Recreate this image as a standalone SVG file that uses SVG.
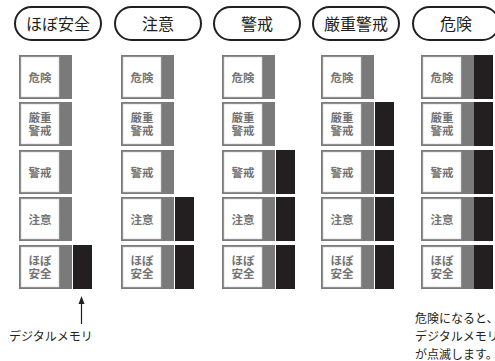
<svg xmlns="http://www.w3.org/2000/svg" width="495" height="361" viewBox="0 0 495 361">
<defs>
<style>
.pill{fill:#fff;stroke:#231f20;stroke-width:2}
.pt{font-family:"Noto Sans CJK JP","Noto Sans",sans-serif;font-size:16px;fill:#231f20;text-anchor:middle}
.frame{fill:#7a7a7a}
.inner{fill:#fff;stroke:#c8c8c8;stroke-width:0.6}
.ct{font-family:"Noto Sans CJK JP","Noto Sans",sans-serif;font-size:11.5px;font-weight:bold;fill:#737373;text-anchor:middle}
.mem{fill:#231f20}
.note{font-family:"Noto Sans CJK JP","Noto Sans",sans-serif;font-size:12px;fill:#231f20}
</style>
<g id="cell">
<rect class="frame" x="0" y="0" width="53" height="44"/>
<rect class="inner" x="2" y="2" width="38" height="40"/>
</g>
</defs>

<g id="pills">
<g id="pill-1"><rect class="pill" x="15" y="7" width="86" height="33" rx="16.5"/><text class="pt" x="58" y="29.5">ほぼ安全</text></g>
<g id="pill-2"><rect class="pill" x="115" y="7" width="86" height="33" rx="16.5"/><text class="pt" x="158" y="29.5">注意</text></g>
<g id="pill-3"><rect class="pill" x="214" y="7" width="86" height="33" rx="16.5"/><text class="pt" x="257" y="29.5">警戒</text></g>
<g id="pill-4"><rect class="pill" x="313" y="7" width="86" height="33" rx="16.5"/><text class="pt" x="356" y="29.5">厳重警戒</text></g>
<g id="pill-5"><rect class="pill" x="413" y="7" width="86" height="33" rx="16.5"/><text class="pt" x="456" y="29.5">危険</text></g>
</g>

<!-- column 1 -->
<g id="col-1">
<use href="#cell" x="19" y="55"/><text class="ct" x="40" y="82">危険</text>
<use href="#cell" x="19" y="102"/><text class="ct" x="40" y="121.5">厳重</text><text class="ct" x="40" y="134.5">警戒</text>
<use href="#cell" x="19" y="150"/><text class="ct" x="40" y="177">警戒</text>
<use href="#cell" x="19" y="197"/><text class="ct" x="40" y="224">注意</text>
<use href="#cell" x="19" y="245"/><text class="ct" x="40" y="264.5">ほぼ</text><text class="ct" x="40" y="277.5">安全</text>
<rect class="mem" x="73" y="245" width="19" height="44"/>
</g>

<!-- column 2 -->
<g id="col-2">
<use href="#cell" x="121" y="55"/><text class="ct" x="142" y="82">危険</text>
<use href="#cell" x="121" y="102"/><text class="ct" x="142" y="121.5">厳重</text><text class="ct" x="142" y="134.5">警戒</text>
<use href="#cell" x="121" y="150"/><text class="ct" x="142" y="177">警戒</text>
<use href="#cell" x="121" y="197"/><text class="ct" x="142" y="224">注意</text>
<use href="#cell" x="121" y="245"/><text class="ct" x="142" y="264.5">ほぼ</text><text class="ct" x="142" y="277.5">安全</text>
<rect class="mem" x="175" y="197" width="19" height="44"/>
<rect class="mem" x="175" y="245" width="19" height="44"/>
</g>

<!-- column 3 -->
<g id="col-3">
<use href="#cell" x="222" y="55"/><text class="ct" x="243" y="82">危険</text>
<use href="#cell" x="222" y="102"/><text class="ct" x="243" y="121.5">厳重</text><text class="ct" x="243" y="134.5">警戒</text>
<use href="#cell" x="222" y="150"/><text class="ct" x="243" y="177">警戒</text>
<use href="#cell" x="222" y="197"/><text class="ct" x="243" y="224">注意</text>
<use href="#cell" x="222" y="245"/><text class="ct" x="243" y="264.5">ほぼ</text><text class="ct" x="243" y="277.5">安全</text>
<rect class="mem" x="276" y="150" width="19" height="44"/>
<rect class="mem" x="276" y="197" width="19" height="44"/>
<rect class="mem" x="276" y="245" width="19" height="44"/>
</g>

<!-- column 4 -->
<g id="col-4">
<use href="#cell" x="321" y="55"/><text class="ct" x="342" y="82">危険</text>
<use href="#cell" x="321" y="102"/><text class="ct" x="342" y="121.5">厳重</text><text class="ct" x="342" y="134.5">警戒</text>
<use href="#cell" x="321" y="150"/><text class="ct" x="342" y="177">警戒</text>
<use href="#cell" x="321" y="197"/><text class="ct" x="342" y="224">注意</text>
<use href="#cell" x="321" y="245"/><text class="ct" x="342" y="264.5">ほぼ</text><text class="ct" x="342" y="277.5">安全</text>
<rect class="mem" x="375" y="102" width="19" height="44"/>
<rect class="mem" x="375" y="150" width="19" height="44"/>
<rect class="mem" x="375" y="197" width="19" height="44"/>
<rect class="mem" x="375" y="245" width="19" height="44"/>
</g>

<!-- column 5 -->
<g id="col-5">
<use href="#cell" x="421" y="55"/><text class="ct" x="442" y="82">危険</text>
<use href="#cell" x="421" y="102"/><text class="ct" x="442" y="121.5">厳重</text><text class="ct" x="442" y="134.5">警戒</text>
<use href="#cell" x="421" y="150"/><text class="ct" x="442" y="177">警戒</text>
<use href="#cell" x="421" y="197"/><text class="ct" x="442" y="224">注意</text>
<use href="#cell" x="421" y="245"/><text class="ct" x="442" y="264.5">ほぼ</text><text class="ct" x="442" y="277.5">安全</text>
<rect class="mem" x="474" y="55" width="19" height="44"/>
<rect class="mem" x="474" y="102" width="19" height="44"/>
<rect class="mem" x="474" y="150" width="19" height="44"/>
<rect class="mem" x="474" y="197" width="19" height="44"/>
<rect class="mem" x="474" y="245" width="19" height="44"/>
</g>

<g id="connectors">
<line x1="81.5" y1="324" x2="81.5" y2="302" stroke="#231f20" stroke-width="1.2"/>
<polygon points="81.5,296 78.5,304 84.5,304" fill="#231f20"/>
</g>

<g id="labels">
<text class="note" x="9" y="341">デジタルメモリ</text>
<text class="note" x="415" y="323">危険になると、</text>
<text class="note" x="415" y="341">デジタルメモリ</text>
<text class="note" x="415" y="359">が点滅します。</text>
</g>
</svg>
